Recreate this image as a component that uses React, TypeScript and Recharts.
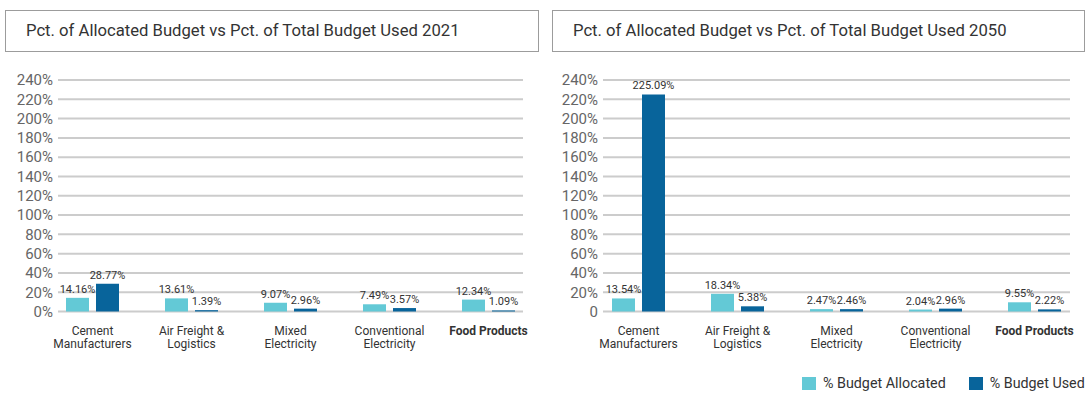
import React from 'react';
import { BarChart, Bar, XAxis, YAxis, CartesianGrid, LabelList } from 'recharts';

const categories = [
  'Cement Manufacturers',
  'Air Freight & Logistics',
  'Mixed Electricity',
  'Conventional Electricity',
  'Food Products',
];
const categoryLines = [
  ['Cement', 'Manufacturers'],
  ['Air Freight &', 'Logistics'],
  ['Mixed', 'Electricity'],
  ['Conventional', 'Electricity'],
  ['Food Products'],
];
const highlightedCategory = 'Food Products';

const allocated2021 = [14.16, 13.61, 9.07, 7.49, 12.34];
const used2021 = [28.77, 1.39, 2.96, 3.57, 1.09];
const allocated2050 = [13.54, 18.34, 2.47, 2.04, 9.55];
const used2050 = [225.09, 5.38, 2.46, 2.96, 2.22];

const yTicks = [0, 20, 40, 60, 80, 100, 120, 140, 160, 180, 200, 220, 240];
const yTickLabels2021 = ['0%', '20%', '40%', '60%', '80%', '100%', '120%', '140%', '160%', '180%', '200%', '220%', '240%'];
const yTickLabels2050 = ['0', '20%', '40%', '60%', '80%', '100%', '120%', '140%', '160%', '180%', '200%', '220%', '240%'];

const seriesNames = ['% Budget Allocated', '% Budget Used'];
const seriesColors = ['#63c9d6', '#08649b'];

const titles = [
  'Pct. of Allocated Budget vs Pct. of Total Budget Used 2021',
  'Pct. of Allocated Budget vs Pct. of Total Budget Used 2050',
];

const FONT = 'Roboto, sans-serif';

const buildData = (alloc: number[], used: number[]) =>
  categories.map((c, i) => ({ category: c, allocated: alloc[i], used: used[i] }));

const CategoryTick = (props: any) => {
  const { x, y, payload } = props;
  const idx = categories.indexOf(payload.value);
  const lines = idx >= 0 ? categoryLines[idx] : [payload.value];
  const bold = payload.value === highlightedCategory;
  return (
    <text
      x={x}
      y={y}
      textAnchor="middle"
      fontSize={12}
      fill="#333"
      fontWeight={bold ? 700 : 400}
      fontFamily={FONT}
    >
      {lines.map((l: string, i: number) => (
        <tspan key={i} x={x} dy={i === 0 ? 23 : 13.5}>
          {l}
        </tspan>
      ))}
    </text>
  );
};

const fmt = (v: any) => `${Number(v).toFixed(2)}%`;

type PanelProps = {
  alloc: number[];
  used: number[];
  tickLabels: string[];
  width: number;
  rightMargin: number;
  pad: number;
};

const Panel = ({ alloc, used, tickLabels, width, rightMargin, pad }: PanelProps) => (
  <BarChart
    width={width}
    height={396}
    data={buildData(alloc, used)}
    margin={{ top: 80, right: rightMargin, bottom: 54.5, left: 0 }}
    barSize={23}
    barGap={7}
  >
    <CartesianGrid vertical={false} stroke="#cccccc" strokeWidth={2} />
    <XAxis
      dataKey="category"
      axisLine={false}
      tickLine={false}
      tickSize={0}
      tickMargin={0}
      height={30}
      interval={0}
      padding={{ left: -pad, right: -pad }}
      tick={<CategoryTick />}
    />
    <YAxis
      type="number"
      domain={[0, 240]}
      ticks={yTicks}
      interval={0}
      width={58}
      axisLine={false}
      tickLine={false}
      tickSize={0}
      tickMargin={5}
      tick={{ fontSize: 15, fill: '#666', fontFamily: FONT }}
      tickFormatter={(v: number) => tickLabels[yTicks.indexOf(v)]}
    />
    <Bar dataKey="allocated" name={seriesNames[0]} fill={seriesColors[0]} isAnimationActive={false}>
      <LabelList dataKey="allocated" position="top" offset={5} fontSize={11} fill="#333" fontFamily={FONT} formatter={fmt} />
    </Bar>
    <Bar dataKey="used" name={seriesNames[1]} fill={seriesColors[1]} isAnimationActive={false}>
      <LabelList dataKey="used" position="top" offset={5} fontSize={11} fill="#333" fontFamily={FONT} formatter={fmt} />
    </Bar>
  </BarChart>
);

const titleBox = (left: number, width: number, text: string) => (
  <div
    style={{
      position: 'absolute',
      left,
      top: 10,
      width,
      height: 42,
      boxSizing: 'border-box',
      border: '1px solid #9c9c9c',
      paddingLeft: 20,
      lineHeight: '40px',
      fontSize: 16.67,
      color: '#333',
      fontFamily: FONT,
      whiteSpace: 'nowrap',
    }}
  >
    {text}
  </div>
);

export default function App() {
  return (
    <div
      style={{
        position: 'absolute',
        left: 0,
        top: 0,
        width: 1090,
        height: 396,
        background: '#fff',
        fontFamily: FONT,
        overflow: 'hidden',
      }}
    >
      <div style={{ position: 'absolute', left: 0, top: 0 }}>
        <Panel alloc={allocated2021} used={used2021} tickLabels={yTickLabels2021} width={545} rightMargin={22} pad={15} />
      </div>
      <div style={{ position: 'absolute', left: 545, top: 0 }}>
        <Panel alloc={allocated2050} used={used2050} tickLabels={yTickLabels2050} width={545} rightMargin={20} pad={14} />
      </div>
      {titleBox(5, 534, titles[0])}
      {titleBox(552, 533, titles[1])}
      <div
        style={{
          position: 'absolute',
          left: 802,
          top: 377,
          display: 'flex',
          alignItems: 'center',
          fontFamily: FONT,
          fontSize: 14.3,
          color: '#333',
        }}
      >
        {seriesNames.map((n, i) => (
          <div key={n} style={{ display: 'flex', alignItems: 'center', marginRight: i === 0 ? 23 : 0 }}>
            <span style={{ display: 'inline-block', width: 14, height: 13, background: seriesColors[i], marginRight: 7 }} />
            <span style={{ lineHeight: '13px', whiteSpace: 'nowrap' }}>{n}</span>
          </div>
        ))}
      </div>
    </div>
  );
}
